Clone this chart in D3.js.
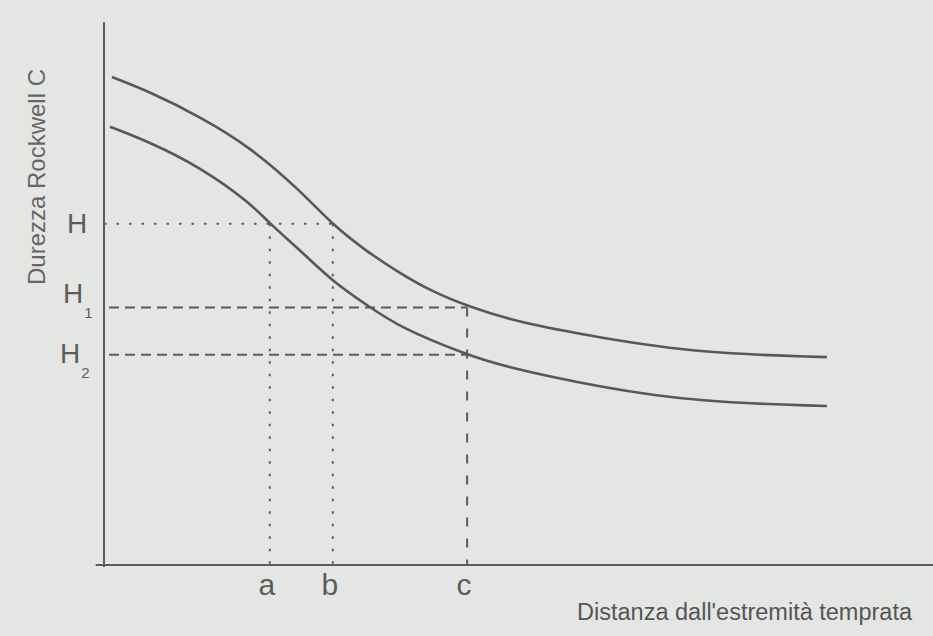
<!DOCTYPE html>
<html><head><meta charset="utf-8">
<script src="https://cdn.jsdelivr.net/npm/d3@7"></script>
<style>html,body{margin:0;padding:0;background:#e4e6e4;}svg{display:block;}</style>
</head><body>
<svg id="chart" width="933" height="636"></svg>
<script>
// Distance from quenched end (arbitrary units) vs Rockwell C hardness
const upperX = [0.48, 2.77, 5.79, 8.81, 11.82, 13.81, 15.86, 17.85, 19.84, 21.89, 24.9, 29.9, 35.9, 43.6];
const upperY = [62.9, 61.0, 57.8, 53.9, 48.3, 43.8, 40.4, 37.6, 35.2, 33.4, 31.3, 29.3, 27.3, 26.8];
const lowerX = [0.36, 2.77, 5.79, 8.81, 10.0, 11.82, 13.81, 15.86, 17.85, 21.89, 23.9, 29.9, 35.9, 43.6];
const lowerY = [56.5, 54.5, 51.3, 46.7, 44.0, 40.6, 36.5, 33.5, 30.6, 27.1, 25.7, 22.9, 21.0, 20.5];
const hardLevels = [44.0, 33.2, 27.1];            // H, H1, H2
const hardLabels = [["H",""],["H","1"],["H","2"]];
const distLevels = [10.0, 13.8, 21.9];            // a, b, c
const distLabels = ["a","b","c"];
const yTitle = "Durezza Rockwell C";
const xTitle = "Distanza dall'estremità temprata";

const svg = d3.select("#chart");
const x = d3.scaleLinear().domain([0, 50]).range([104, 933]);
const y = d3.scaleLinear().domain([0, 70]).range([565, 22]);
const ink = "#5c5c5c";
const font = "'Liberation Sans', Arial, sans-serif";

// Axes
svg.append("line").attr("x1", x(0)).attr("x2", x(0)).attr("y1", y(70)).attr("y2", y(0) + 2)
  .attr("stroke", ink).attr("stroke-width", 2);
svg.append("line").attr("x1", x(-0.5)).attr("x2", x(50)).attr("y1", y(0)).attr("y2", y(0))
  .attr("stroke", ink).attr("stroke-width", 2);

// Guide lines
const dotted = "2.5,10";
const dashed = "10,6";
svg.append("line").attr("x1", x(0)).attr("x2", x(distLevels[1])).attr("y1", y(hardLevels[0])).attr("y2", y(hardLevels[0]))
  .attr("stroke", ink).attr("stroke-width", 2).attr("stroke-dasharray", dotted);
[1, 2].forEach(i => {
  svg.append("line").attr("x1", x(0) + 5).attr("x2", x(distLevels[2])).attr("y1", y(hardLevels[i])).attr("y2", y(hardLevels[i]))
    .attr("stroke", ink).attr("stroke-width", 2).attr("stroke-dasharray", dashed);
});
[0, 1].forEach(i => {
  svg.append("line").attr("x1", x(distLevels[i])).attr("x2", x(distLevels[i])).attr("y1", y(hardLevels[0])).attr("y2", y(0))
    .attr("stroke", ink).attr("stroke-width", 2).attr("stroke-dasharray", dotted);
});
svg.append("line").attr("x1", x(distLevels[2])).attr("x2", x(distLevels[2])).attr("y1", y(hardLevels[1])).attr("y2", y(0))
  .attr("stroke", ink).attr("stroke-width", 2).attr("stroke-dasharray", "9,12");

// Curves
const line = d3.line().x(d => x(d[0])).y(d => y(d[1])).curve(d3.curveBasis);
[[upperX, upperY], [lowerX, lowerY]].forEach(([xs, ys]) => {
  svg.append("path").datum(xs.map((v, i) => [v, ys[i]])).attr("d", line)
    .attr("fill", "none").attr("stroke", "#585858").attr("stroke-width", 2.6);
});

// Y level labels
const hx = [67, 63, 60], hb = [233, 303, 363];
hardLabels.forEach((lab, i) => {
  const t = svg.append("text").attr("x", hx[i]).attr("y", hb[i])
    .attr("font-family", font).attr("font-size", 28).attr("fill", ink);
  t.append("tspan").text(lab[0]);
  if (lab[1]) t.append("tspan").attr("dy", 15).attr("dx", 1).attr("font-size", 15).text(lab[1]);
});

// X level labels
distLabels.forEach((lab, i) => {
  svg.append("text").attr("x", x(distLevels[i]) - 3).attr("y", 595).attr("text-anchor", "middle")
    .attr("font-family", font).attr("font-size", 30).attr("fill", ink).text(lab);
});

// Titles
svg.append("text").attr("transform", "translate(45,177) rotate(-90)").attr("text-anchor", "middle")
  .attr("font-family", font).attr("font-size", 24).attr("fill", "#666").text(yTitle);
svg.append("text").attr("x", 912).attr("y", 620).attr("text-anchor", "end")
  .attr("font-family", font).attr("font-size", 23.5).attr("fill", "#555").text(xTitle);
</script>
</body></html>
